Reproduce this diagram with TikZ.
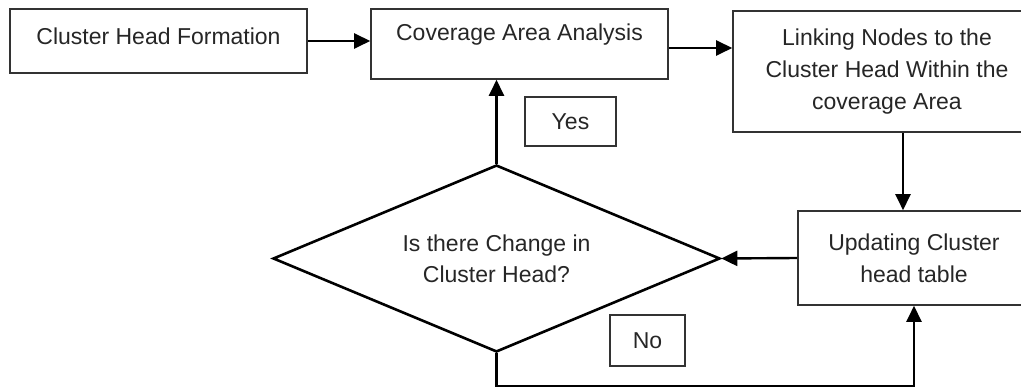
\documentclass[tikz,border=0pt]{standalone}
\usepackage{fontspec}
\setmainfont{Liberation Sans}
\usetikzlibrary{arrows.meta,positioning,shapes.geometric}
\tikzset{
  blk/.style={draw=black!80, line width=1.6pt, align=center, inner sep=0pt,
              font=\fontsize{23}{32}\selectfont, text=black!85},
  decn/.style={diamond, aspect=2.4, draw, line width=2.6pt, inner sep=0pt,
               align=center, font=\fontsize{23}{31}\selectfont, text=black!85},
  sig/.style={-{Triangle[length=16pt,width=15pt]}, line width=2.4pt},
}
\begin{document}
\begin{tikzpicture}[x=1pt,y=-1pt]
    \clip (0,0) rectangle (1021,387);
    \node[blk,minimum width=297pt,minimum height=64pt,text height=16pt,
      text depth=8pt] (form) at (158.5,41) {Cluster Head Formation};
    \node[blk,minimum width=297pt,minimum height=70pt,text height=16pt,
      text depth=22pt] (cov) at (519.5,44) {Coverage Area Analysis};
    \node[blk,minimum width=308pt,minimum height=121pt] (link) at (887,71.5)
      {Linking Nodes to the\\Cluster Head Within the\\coverage Area};
    \node[blk,minimum width=232pt,minimum height=94pt] (upd) at (914,258)
      {Updating Cluster\\head table};
    \node[decn,minimum width=447pt,minimum height=187pt] (chg) at (496.5,258.5)
      {Is there Change in\\Cluster Head?};
    \node[blk,minimum width=91pt,minimum height=49pt] (yes) at (570.5,121.5) {Yes};
    \node[blk,minimum width=75pt,minimum height=51pt] (no) at (647.5,340.5) {No};
    \draw[sig] (form.east) -- (form.east -| cov.west);
    \draw[sig] ([yshift=-4pt]cov.east) -- ([yshift=-4pt]cov.east -| link.west);
    \draw[sig] ([xshift=16pt]link.south) -- ([xshift=16pt]link.south |- upd.north);
    \draw[sig] (upd.west) -- (chg.east);
    \draw[sig] (chg.north) -- (chg.north |- cov.south);
    \draw[sig] (chg.south) -- ++(0,33) -| (upd.south);
\end{tikzpicture}
\end{document}
